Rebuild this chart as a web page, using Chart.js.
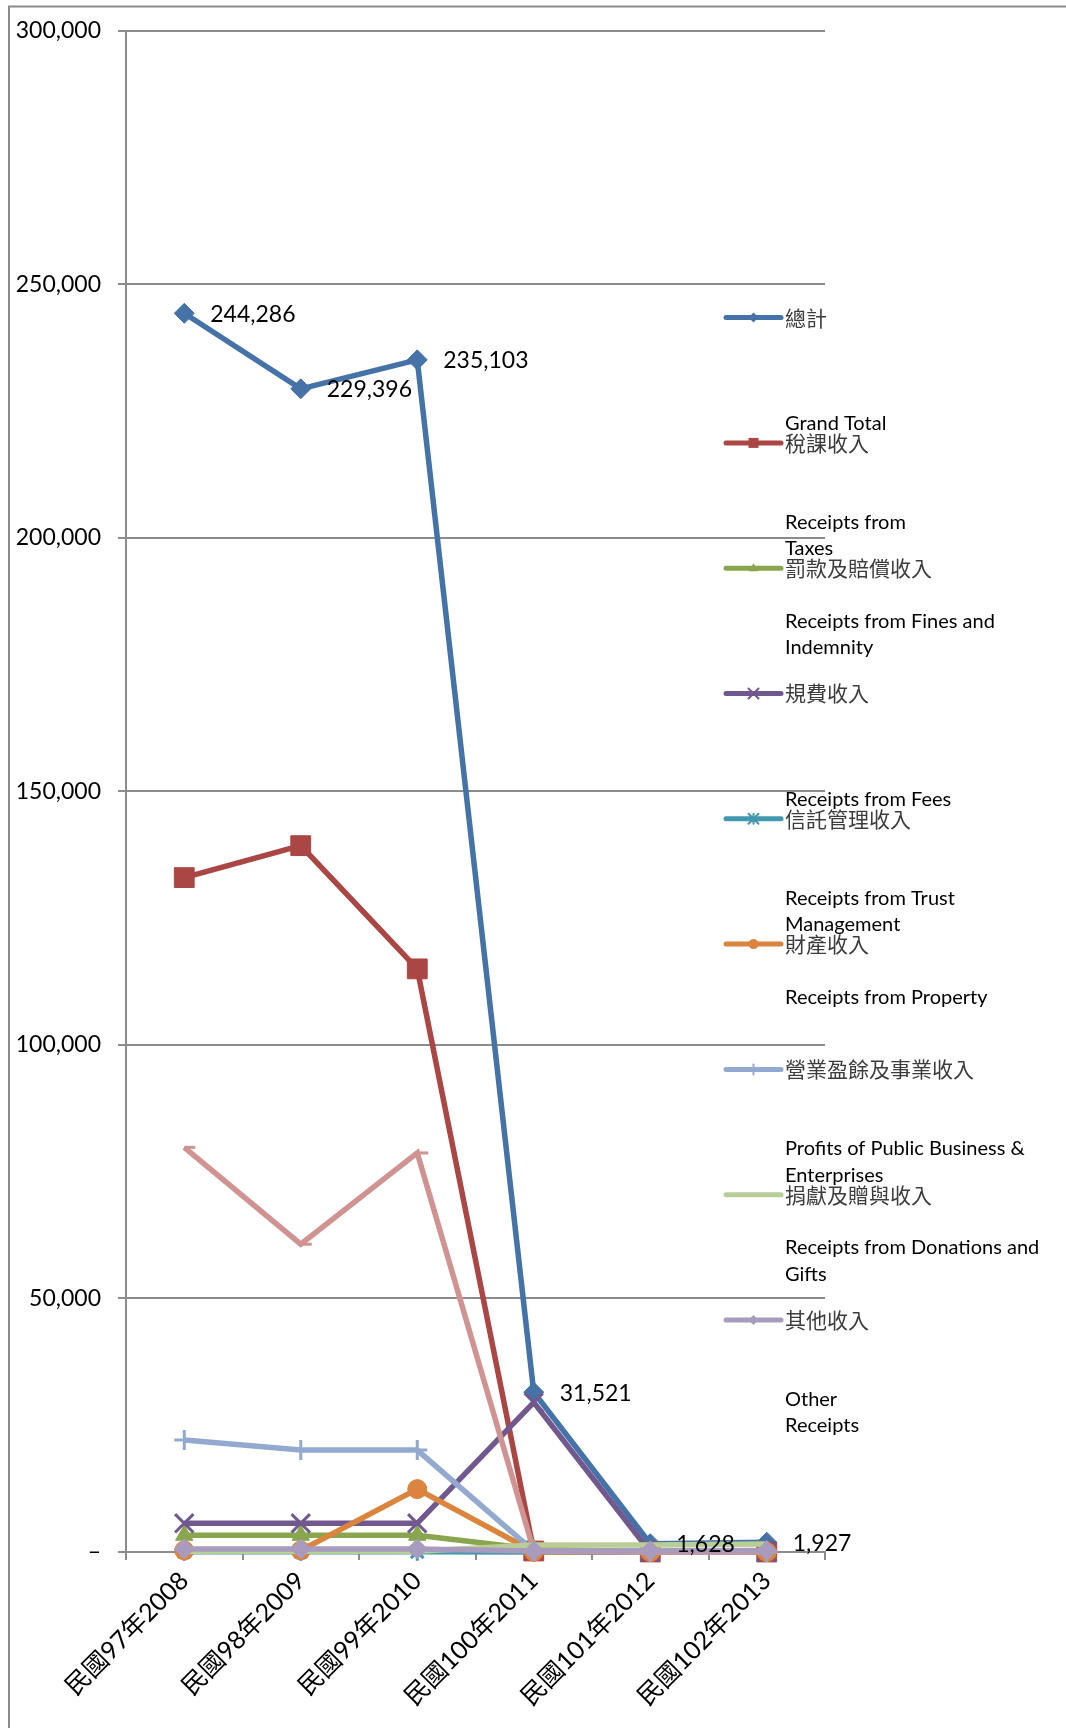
<!DOCTYPE html>
<html>
<head>
<meta charset="utf-8">
<script src="https://cdn.jsdelivr.net/npm/chart.js"></script>
<style>
  html, body { margin: 0; padding: 0; background: #fff; }
  #wrap { position: relative; width: 1066px; height: 1728px; }
</style>
</head>
<body>
<div id="wrap"><canvas id="chart" width="1066" height="1728"></canvas></div>
<script>
// 年度
const categories = ['民國97年2008', '民國98年2009', '民國99年2010', '民國100年2011', '民國101年2012', '民國102年2013'];

// 各項收入（圖上估讀）
const grandTotal   = [244286, 229396, 235103, 31521, 1628, 1927];
const taxes        = [133000, 139300, 115000, 200, 0, 0];
const fines        = [3300, 3300, 3300, 600, 0, 0];
const fees         = [5650, 5650, 5650, 29500, 0, 0];
const trust        = [50, 50, 50, 0, 0, 0];
const property     = [300, 300, 12400, 50, 0, 0];
const enterprises  = [22100, 20100, 20100, 200, 0, 0];
const unlisted     = [79800, 60700, 78700, 300, 0, 0];
const donations    = [150, 150, 150, 1400, 1400, 1600];
const others       = [600, 600, 600, 200, 230, 300];

// 圖例文字（第一行中文，其後英文）
const legendLines = [
  ['總計', '', '', '', 'Grand Total'],
  ['稅課收入', '', '', 'Receipts from', 'Taxes'],
  ['罰款及賠償收入', '', 'Receipts from Fines and', 'Indemnity'],
  ['規費收入', '', '', '', 'Receipts from Fees'],
  ['信託管理收入', '', '', 'Receipts from Trust', 'Management'],
  ['財產收入', '', 'Receipts from Property'],
  ['營業盈餘及事業收入', '', '', 'Profits of Public Business &', 'Enterprises'],
  null,
  ['捐獻及贈與收入', '', 'Receipts from Donations and', 'Gifts'],
  ['其他收入', '', '', 'Other', 'Receipts']
];

const yTicks = [0, 50000, 100000, 150000, 200000, 250000, 300000];

const seriesData   = [grandTotal, taxes, fines, fees, trust, property, enterprises, unlisted, donations, others];
const seriesColors = ['#4572A7', '#AA4643', '#89A54E', '#71588F', '#4198AF', '#DB843D', '#93A9CF', '#D19392', '#B9CD96', '#A99BBD'];
const seriesStyles = ['rectRot', 'rect', 'triangle', 'crossRot', 'star', 'circle', 'cross', 'dash', false, 'rectRot'];
const seriesRadius = [10, 14, 10, 13, 9, 9.5, 10, 11, 0, 10];

const gridGray = '#8c8c8c';
const latin = 'Lato, "Noto Sans CJK TC", sans-serif';

const datasets = seriesData.map((data, i) => ({
  label: legendLines[i] ? legendLines[i][0] : '',
  data: data,
  borderColor: seriesColors[i],
  backgroundColor: seriesColors[i],
  pointBackgroundColor: seriesColors[i],
  pointBorderColor: seriesColors[i],
  pointStyle: seriesStyles[i],
  pointRadius: seriesRadius[i],
  pointBorderWidth: ['crossRot', 'star', 'cross', 'dash'].includes(seriesStyles[i]) ? 3 : 1,
  borderWidth: 5.5,
  tension: 0,
  fill: false,
  clip: false,
  order: -i
}));

// 外框
const framePlugin = {
  id: 'frame',
  beforeDraw(chart) {
    const ctx = chart.ctx;
    ctx.save();
    ctx.fillStyle = '#fff';
    ctx.fillRect(0, 0, chart.width, chart.height);
    ctx.strokeStyle = gridGray;
    ctx.lineWidth = 2;
    ctx.beginPath();
    ctx.moveTo(9, chart.height);
    ctx.lineTo(9, 6.5);
    ctx.lineTo(chart.width, 6.5);
    ctx.stroke();
    ctx.restore();
  }
};

// 總計的數值標籤
const totalLabels = {
  id: 'totalLabels',
  afterDatasetsDraw(chart) {
    const ctx = chart.ctx;
    const meta = chart.getDatasetMeta(0);
    ctx.save();
    ctx.font = '23px ' + latin;
    ctx.fillStyle = '#000';
    ctx.textAlign = 'left';
    ctx.textBaseline = 'middle';
    meta.data.forEach((pt, j) => {
      ctx.fillText(grandTotal[j].toLocaleString('en-US'), pt.x + 26, pt.y + 1);
    });
    ctx.restore();
  }
};

function drawMarker(ctx, style, x, y, r, color) {
  ctx.save();
  ctx.fillStyle = color;
  ctx.strokeStyle = color;
  ctx.lineWidth = 2;
  ctx.beginPath();
  if (style === 'rectRot') {
    ctx.moveTo(x - r, y); ctx.lineTo(x, y - r); ctx.lineTo(x + r, y); ctx.lineTo(x, y + r);
    ctx.closePath(); ctx.fill();
  } else if (style === 'rect') {
    ctx.rect(x - r, y - r, 2 * r, 2 * r); ctx.fill();
  } else if (style === 'triangle') {
    ctx.moveTo(x - r, y + r * 0.6); ctx.lineTo(x, y - r); ctx.lineTo(x + r, y + r * 0.6);
    ctx.closePath(); ctx.fill();
  } else if (style === 'circle') {
    ctx.arc(x, y, r, 0, Math.PI * 2); ctx.fill();
  } else if (style === 'crossRot') {
    ctx.moveTo(x - r, y - r); ctx.lineTo(x + r, y + r);
    ctx.moveTo(x - r, y + r); ctx.lineTo(x + r, y - r); ctx.stroke();
  } else if (style === 'star') {
    ctx.moveTo(x - r, y - r); ctx.lineTo(x + r, y + r);
    ctx.moveTo(x - r, y + r); ctx.lineTo(x + r, y - r);
    ctx.moveTo(x, y - r); ctx.lineTo(x, y + r); ctx.stroke();
  } else if (style === 'cross') {
    ctx.moveTo(x, y - r); ctx.lineTo(x, y + r); ctx.stroke();
  }
  ctx.restore();
}

// 右側圖例
const sideLegend = {
  id: 'sideLegend',
  afterDraw(chart) {
    const ctx = chart.ctx;
    const x0 = 726, x1 = 781, textX = 785;
    const top = 317.6, step = 125.3, lineH = 26.5;
    let k = 0;
    ctx.save();
    legendLines.forEach((lines, i) => {
      if (!lines) return;
      const y = top + k * step;
      k++;
      ctx.strokeStyle = seriesColors[i];
      ctx.lineWidth = 5;
      ctx.lineCap = 'round';
      ctx.beginPath();
      ctx.moveTo(x0, y);
      ctx.lineTo(x1, y);
      ctx.stroke();
      if (seriesStyles[i]) drawMarker(ctx, seriesStyles[i], (x0 + x1) / 2, y, 5, seriesColors[i]);
      ctx.textAlign = 'left';
      ctx.textBaseline = 'middle';
      lines.forEach((t, n) => {
        if (!t) return;
        if (n === 0) {
          ctx.font = '21px "Noto Sans CJK TC", sans-serif';
          ctx.fillStyle = '#3c3c3c';
        } else {
          ctx.font = '20px ' + latin;
          ctx.fillStyle = '#000';
        }
        ctx.fillText(t, textX, y + n * lineH);
      });
    });
    ctx.restore();
  }
};

new Chart(document.getElementById('chart'), {
  type: 'line',
  data: { labels: categories, datasets: datasets },
  options: {
    responsive: false,
    animation: false,
    devicePixelRatio: 1,
    layout: { padding: { top: 29, right: 241, left: 0, bottom: 0 } },
    plugins: {
      legend: { display: false },
      tooltip: { enabled: false }
    },
    scales: {
      x: {
        offset: true,
        grid: { offset: true, drawOnChartArea: false, drawTicks: true, tickLength: 8, color: gridGray, lineWidth: 2 },
        border: { display: true, color: gridGray, width: 2 },
        ticks: {
          autoSkip: false,
          maxRotation: 45,
          minRotation: 45,
          padding: 6,
          color: '#000',
          font: { family: latin, size: 25 }
        },
        afterFit(scale) { scale.height = 176; }
      },
      y: {
        min: 0,
        max: 300000,
        afterBuildTicks(scale) { scale.ticks = yTicks.map(v => ({ value: v })); },
        grid: { color: gridGray, lineWidth: 2, tickLength: 8, drawTicks: true },
        border: { display: true, color: gridGray, width: 2 },
        ticks: {
          padding: 17,
          color: '#000',
          font: { family: latin, size: 23 },
          callback: v => (v === 0 ? '–' : v.toLocaleString('en-US'))
        },
        afterFit(scale) { scale.width = 126; }
      }
    }
  },
  plugins: [framePlugin, totalLabels, sideLegend]
});
</script>
</body>
</html>
